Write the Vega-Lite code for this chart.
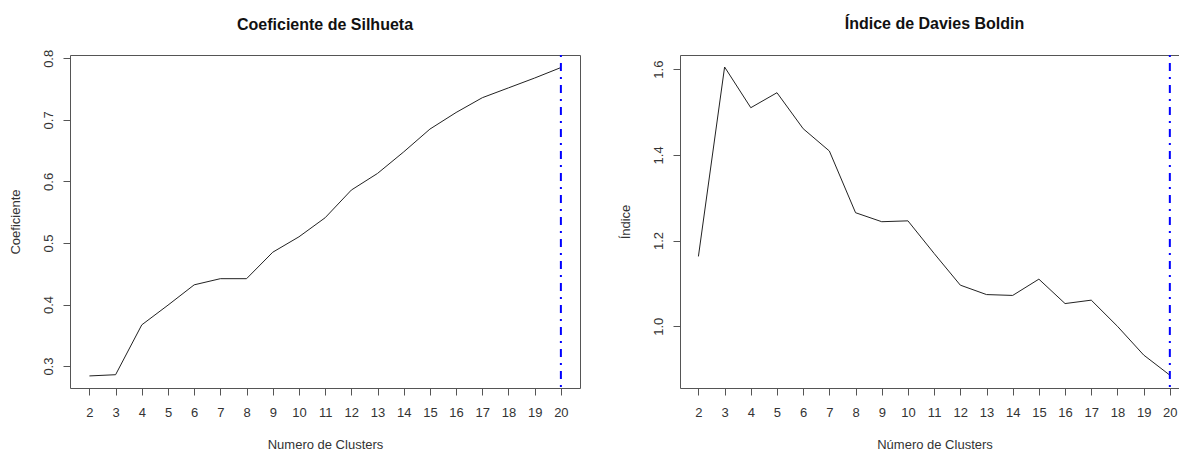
{
  "$schema": "https://vega.github.io/schema/vega-lite/v6.json",
  "padding": {"left": 8, "top": 15, "right": 0, "bottom": 0},
  "background": "white",
  "bounds": "flush",
  "spacing": 100,
  "config": {
    "font": "Liberation Sans",
    "view": {"stroke": "#555", "strokeWidth": 1},
    "axis": {
      "grid": false,
      "domain": false,
      "tickColor": "#555",
      "tickSize": 7,
      "labelFont": "Liberation Sans",
      "labelFontSize": 13,
      "labelColor": "#333",
      "labelOverlap": false,
      "labelFlush": false,
      "titleFont": "Liberation Sans",
      "titleFontSize": 13,
      "titleFontWeight": "normal",
      "titleColor": "#333"
    },
    "title": {
      "font": "Liberation Sans",
      "fontSize": 16,
      "fontWeight": "bold",
      "color": "#111",
      "anchor": "middle",
      "frame": "group",
      "baseline": "alphabetic",
      "offset": 16
    }
  },
  "datasets": {
    "scores": [
      {"k": 2, "silhueta": 0.284, "davies": 1.163},
      {"k": 3, "silhueta": 0.286, "davies": 1.605},
      {"k": 4, "silhueta": 0.367, "davies": 1.510},
      {"k": 5, "silhueta": 0.399, "davies": 1.545},
      {"k": 6, "silhueta": 0.432, "davies": 1.461},
      {"k": 7, "silhueta": 0.442, "davies": 1.409},
      {"k": 8, "silhueta": 0.442, "davies": 1.265},
      {"k": 9, "silhueta": 0.485, "davies": 1.244},
      {"k": 10, "silhueta": 0.510, "davies": 1.246},
      {"k": 11, "silhueta": 0.541, "davies": 1.170},
      {"k": 12, "silhueta": 0.586, "davies": 1.096},
      {"k": 13, "silhueta": 0.613, "davies": 1.074},
      {"k": 14, "silhueta": 0.648, "davies": 1.072},
      {"k": 15, "silhueta": 0.685, "davies": 1.110},
      {"k": 16, "silhueta": 0.712, "davies": 1.053},
      {"k": 17, "silhueta": 0.736, "davies": 1.061},
      {"k": 18, "silhueta": 0.752, "davies": 1.000},
      {"k": 19, "silhueta": 0.768, "davies": 0.933},
      {"k": 20, "silhueta": 0.785, "davies": 0.886}
    ],
    "best": [{"k": 20}]
  },
  "hconcat": [
    {
      "width": 510,
      "height": 333,
      "title": {"text": "Coeficiente de Silhueta"},
      "layer": [
        {
          "data": {"name": "scores"},
          "mark": {"type": "line", "color": "#222", "strokeWidth": 1},
          "encoding": {
            "x": {
              "field": "k",
              "type": "quantitative",
              "scale": {"domain": [1.259, 20.73], "nice": false, "zero": false},
              "axis": {
                "title": "Numero de Clusters",
                "values": [2, 3, 4, 5, 6, 7, 8, 9, 10, 11, 12, 13, 14, 15, 16, 17, 18, 19, 20],
                "format": "d",
                "labelBaseline": "alphabetic",
                "labelPadding": 21,
                "titleBaseline": "alphabetic",
                "titleX": 255,
                "titleY": 60.5
              }
            },
            "y": {
              "field": "silhueta",
              "type": "quantitative",
              "scale": {"domain": [0.2644, 0.8054], "nice": false, "zero": false},
              "axis": {
                "title": "Coeficiente",
                "values": [0.3, 0.4, 0.5, 0.6, 0.7, 0.8],
                "format": ".1f",
                "labelAngle": 270,
                "labelAlign": "center",
                "labelBaseline": "alphabetic",
                "labelPadding": 11,
                "titleAngle": 270,
                "titleAlign": "center",
                "titleBaseline": "alphabetic",
                "titleX": -51,
                "titleY": 166.5
              }
            }
          }
        },
        {
          "data": {"name": "best"},
          "mark": {"type": "rule", "color": "#0000FF", "strokeWidth": 2, "strokeDash": [2, 6, 8, 6]},
          "encoding": {
            "x": {
              "field": "k",
              "type": "quantitative",
              "axis": {
                "title": "Numero de Clusters",
                "values": [2, 3, 4, 5, 6, 7, 8, 9, 10, 11, 12, 13, 14, 15, 16, 17, 18, 19, 20],
                "format": "d",
                "labelBaseline": "alphabetic",
                "labelPadding": 21,
                "titleBaseline": "alphabetic",
                "titleX": 255,
                "titleY": 60.5
              }
            }
          }
        }
      ]
    },
    {
      "width": 499,
      "height": 333,
      "title": {"text": "Índice de Davies Boldin", "dx": 5, "offset": 22},
      "layer": [
        {
          "data": {"name": "scores"},
          "mark": {"type": "line", "color": "#222", "strokeWidth": 1},
          "encoding": {
            "x": {
              "field": "k",
              "type": "quantitative",
              "scale": {"domain": [1.297, 20.35], "nice": false, "zero": false},
              "axis": {
                "title": "Número de Clusters",
                "values": [2, 3, 4, 5, 6, 7, 8, 9, 10, 11, 12, 13, 14, 15, 16, 17, 18, 19, 20],
                "format": "d",
                "labelBaseline": "alphabetic",
                "labelPadding": 21,
                "titleBaseline": "alphabetic",
                "titleX": 254.5,
                "titleY": 60.5
              }
            },
            "y": {
              "field": "davies",
              "type": "quantitative",
              "scale": {"domain": [0.856, 1.633], "nice": false, "zero": false},
              "axis": {
                "title": "Índice",
                "values": [1.0, 1.2, 1.4, 1.6],
                "format": ".1f",
                "labelAngle": 270,
                "labelAlign": "center",
                "labelBaseline": "alphabetic",
                "labelPadding": 11,
                "titleAngle": 270,
                "titleAlign": "center",
                "titleBaseline": "alphabetic",
                "titleX": -51,
                "titleY": 166.5
              }
            }
          }
        },
        {
          "data": {"name": "best"},
          "mark": {"type": "rule", "color": "#0000FF", "strokeWidth": 2, "strokeDash": [2, 6, 8, 6]},
          "encoding": {
            "x": {
              "field": "k",
              "type": "quantitative",
              "axis": {
                "title": "Número de Clusters",
                "values": [2, 3, 4, 5, 6, 7, 8, 9, 10, 11, 12, 13, 14, 15, 16, 17, 18, 19, 20],
                "format": "d",
                "labelBaseline": "alphabetic",
                "labelPadding": 21,
                "titleBaseline": "alphabetic",
                "titleX": 254.5,
                "titleY": 60.5
              }
            }
          }
        }
      ]
    }
  ]
}
